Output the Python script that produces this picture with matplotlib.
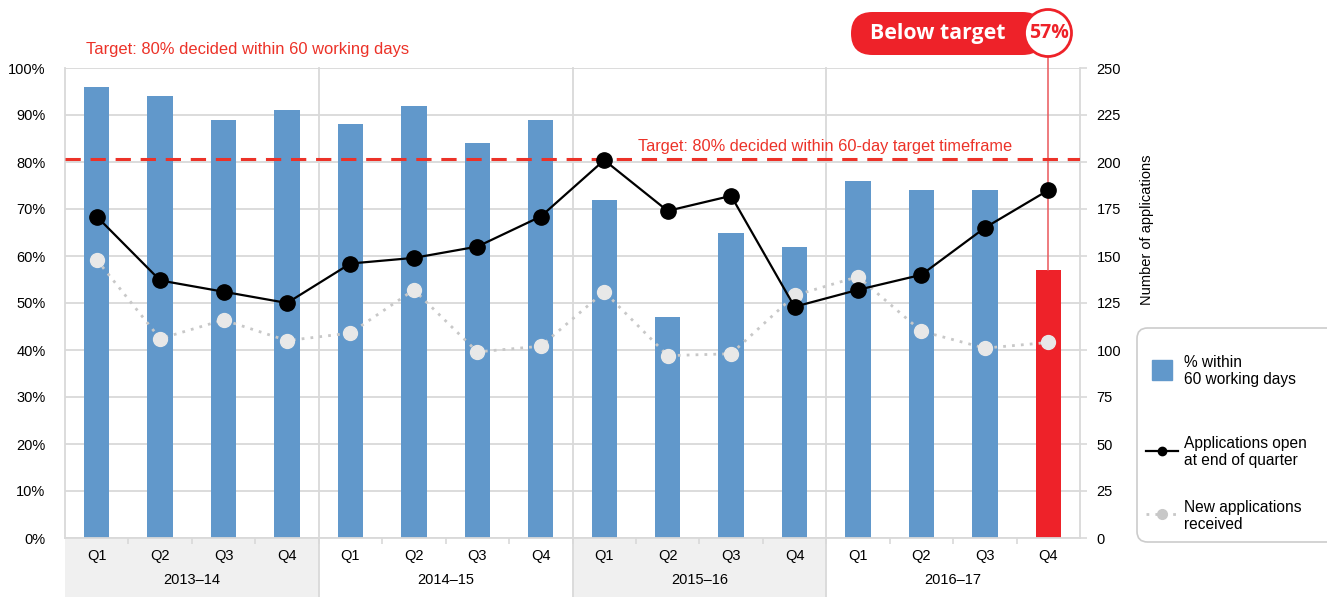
import matplotlib.pyplot as plt
from matplotlib.patches import Rectangle, FancyBboxPatch, Circle
from matplotlib.lines import Line2D
import matplotlib.transforms as mtransforms

plt.rcParams['font.family'] = ['Liberation Sans', 'DejaVu Sans']

years = ['2013\u201314', '2014\u201315', '2015\u201316', '2016\u201317']
quarters = ['Q1', 'Q2', 'Q3', 'Q4'] * 4

# % decided within 60 working days
pct_within = [96, 94, 89, 91, 88, 92, 84, 89, 72, 47, 65, 62, 76, 74, 74, 57]
# applications open at end of quarter
open_apps = [171, 137, 131, 125, 146, 149, 155, 171, 201, 174, 182, 123, 132, 140, 165, 185]
# new applications received
new_apps = [148, 106, 116, 105, 109, 132, 99, 102, 131, 97, 98, 129, 139, 110, 101, 104]

legend_labels = ['% within\n60 working days', 'Applications open\nat end of quarter',
                 'New applications\nreceived']

target = 80.6

blue = '#6198cb'
red = '#ee2229'
grid_c = '#d9d9d9'

W, H = 1327, 597
fig = plt.figure(figsize=(W / 100, H / 100), dpi=100)
ax = fig.add_axes([65 / W, 1 - 538 / H, 1015 / W, 470 / H])
ax2 = ax.twinx()


def fx(px):
    return px / W


def fy(py):
    return 1 - py / H


x = list(range(16))
colors = [blue] * 15 + [red]
ax.bar(x, pct_within, width=0.4, color=colors, zorder=2)

ax.set_xlim(-0.5, 15.5)
ax.set_ylim(0, 100)
ax.set_yticks(range(0, 101, 10))
ax.set_yticklabels([f'{v}%' for v in range(0, 101, 10)], fontsize=10.5)
ax.tick_params(axis='y', length=0, pad=14)
ax.yaxis.grid(True, color=grid_c, lw=1.3, zorder=0)
ax.set_axisbelow(True)

ax.set_xticks(x)
ax.set_xticklabels(quarters, fontsize=10.5)
ax.set_xticks([i + 0.5 for i in range(15)], minor=True)
ax.tick_params(axis='x', which='major', length=0, pad=8)
ax.tick_params(axis='x', which='minor', length=4, color=grid_c, width=1.2)

for s in ['top', 'right']:
    ax.spines[s].set_visible(False)
ax.spines['left'].set_color(grid_c)
ax.spines['bottom'].set_color(grid_c)
ax.spines['left'].set_linewidth(1.3)
ax.spines['bottom'].set_linewidth(1.3)

# shaded year bands and separators below the axis
trans = mtransforms.blended_transform_factory(ax.transData, ax.transAxes)
for g in range(4):
    if g % 2 == 0:
        ax.add_patch(Rectangle((g * 4 - 0.5, -0.14), 4, 0.14, transform=trans,
                               facecolor='#f0f0f0', edgecolor='none',
                               clip_on=False, zorder=0))
    ax.text(g * 4 + 1.5, -0.09, years[g], transform=trans, ha='center',
            va='center', fontsize=10.5)
for b in [3.5, 7.5, 11.5]:
    ax.plot([b, b], [-0.14, 1], transform=trans, color=grid_c, lw=1.3,
            clip_on=False, zorder=1)
ax.plot([15.5, 15.5], [0, 1], transform=trans, color=grid_c, lw=1.3,
        clip_on=False, zorder=1)

# target line
ax.axhline(target, color='#ec3228', lw=2.2, ls=(0, (5, 3.2)), zorder=3)
ax.text(-0.17, 102.3, 'Target: 80% decided within 60 working days',
        color='#ec3228', fontsize=11.9, va='bottom', ha='left')
ax.text(8.53, target + 1.0, 'Target: 80% decided within 60-day target timeframe',
        color='#ec3228', fontsize=11.8, va='bottom', ha='left')

# right axis lines
ax2.plot(x, new_apps, color='#c8c8c8', lw=2, ls=(0, (1, 2.2)),
         marker='o', markersize=10, markerfacecolor='#e8e8e8',
         markeredgecolor='#e8e8e8', zorder=3)
ax2.plot(x, open_apps, color='black', lw=1.6, marker='o', markersize=11,
         markerfacecolor='black', zorder=4)
ax2.set_ylim(0, 250)
ax2.set_yticks(range(0, 251, 25))
ax2.tick_params(axis='y', labelsize=10.5, length=5, color=grid_c, width=1.2, pad=7)
for s in ['top', 'left', 'bottom', 'right']:
    ax2.spines[s].set_visible(False)
ax2.set_ylabel('Number of applications', fontsize=10.5)
ax2.yaxis.set_label_coords(1.059, 0.655)

# callout line and badge
ax.plot([15, 15], [pct_within[15], 102.4], color='#e9575b', lw=1.1,
        clip_on=False, zorder=2)
badge = FancyBboxPatch((8.51, 5.42), 1.93, 0.43,
                       boxstyle='round,pad=0,rounding_size=0.215',
                       transform=fig.dpi_scale_trans, facecolor=red,
                       edgecolor='none')
fig.patches.append(badge)
circ = Circle((10.48, 5.64), 0.235, transform=fig.dpi_scale_trans,
              facecolor='white', edgecolor=red, lw=2)
fig.patches.append(circ)
fig.text(9.38 / 13.27, 5.635 / 5.97, 'Below target', family=['Open Sans', 'DejaVu Sans'],
         weight='bold', color='white', fontsize=15.3, ha='center', va='center')
fig.text(10.485 / 13.27, 5.635 / 5.97, '57%', family=['Open Sans', 'DejaVu Sans'],
         weight='bold', color=red, fontsize=14, ha='center', va='center')

# legend, laid out by hand
frame = FancyBboxPatch((fx(1137), fy(542)), fx(1345) - fx(1137), fy(328) - fy(542),
                       boxstyle='round,pad=0,rounding_size=0.008',
                       transform=fig.transFigure, facecolor='white',
                       edgecolor='#cccccc', lw=1.2, mutation_aspect=W / H)
fig.patches.append(frame)
fig.add_artist(Line2D([fx(1162)], [fy(370)], transform=fig.transFigure,
                      ls='none', marker='s', markersize=15, color=blue))
fig.add_artist(Line2D([fx(1146), fx(1178)], [fy(451), fy(451)],
                      transform=fig.transFigure, color='black', lw=1.6))
fig.add_artist(Line2D([fx(1162)], [fy(451)], transform=fig.transFigure,
                      ls='none', marker='o', markersize=6, color='black'))
fig.add_artist(Line2D([fx(1146), fx(1178)], [fy(514), fy(514)],
                      transform=fig.transFigure, color='#c8c8c8', lw=2,
                      ls=(0, (1, 2.2))))
fig.add_artist(Line2D([fx(1162)], [fy(514)], transform=fig.transFigure,
                      ls='none', marker='o', markersize=7, color='#c8c8c8'))
for lab, yc in zip(legend_labels, [371, 452, 516]):
    fig.text(fx(1184), fy(yc), lab, fontsize=11.2, ha='left', va='center',
             linespacing=1.2)

fig.savefig('out.png', dpi=100)
